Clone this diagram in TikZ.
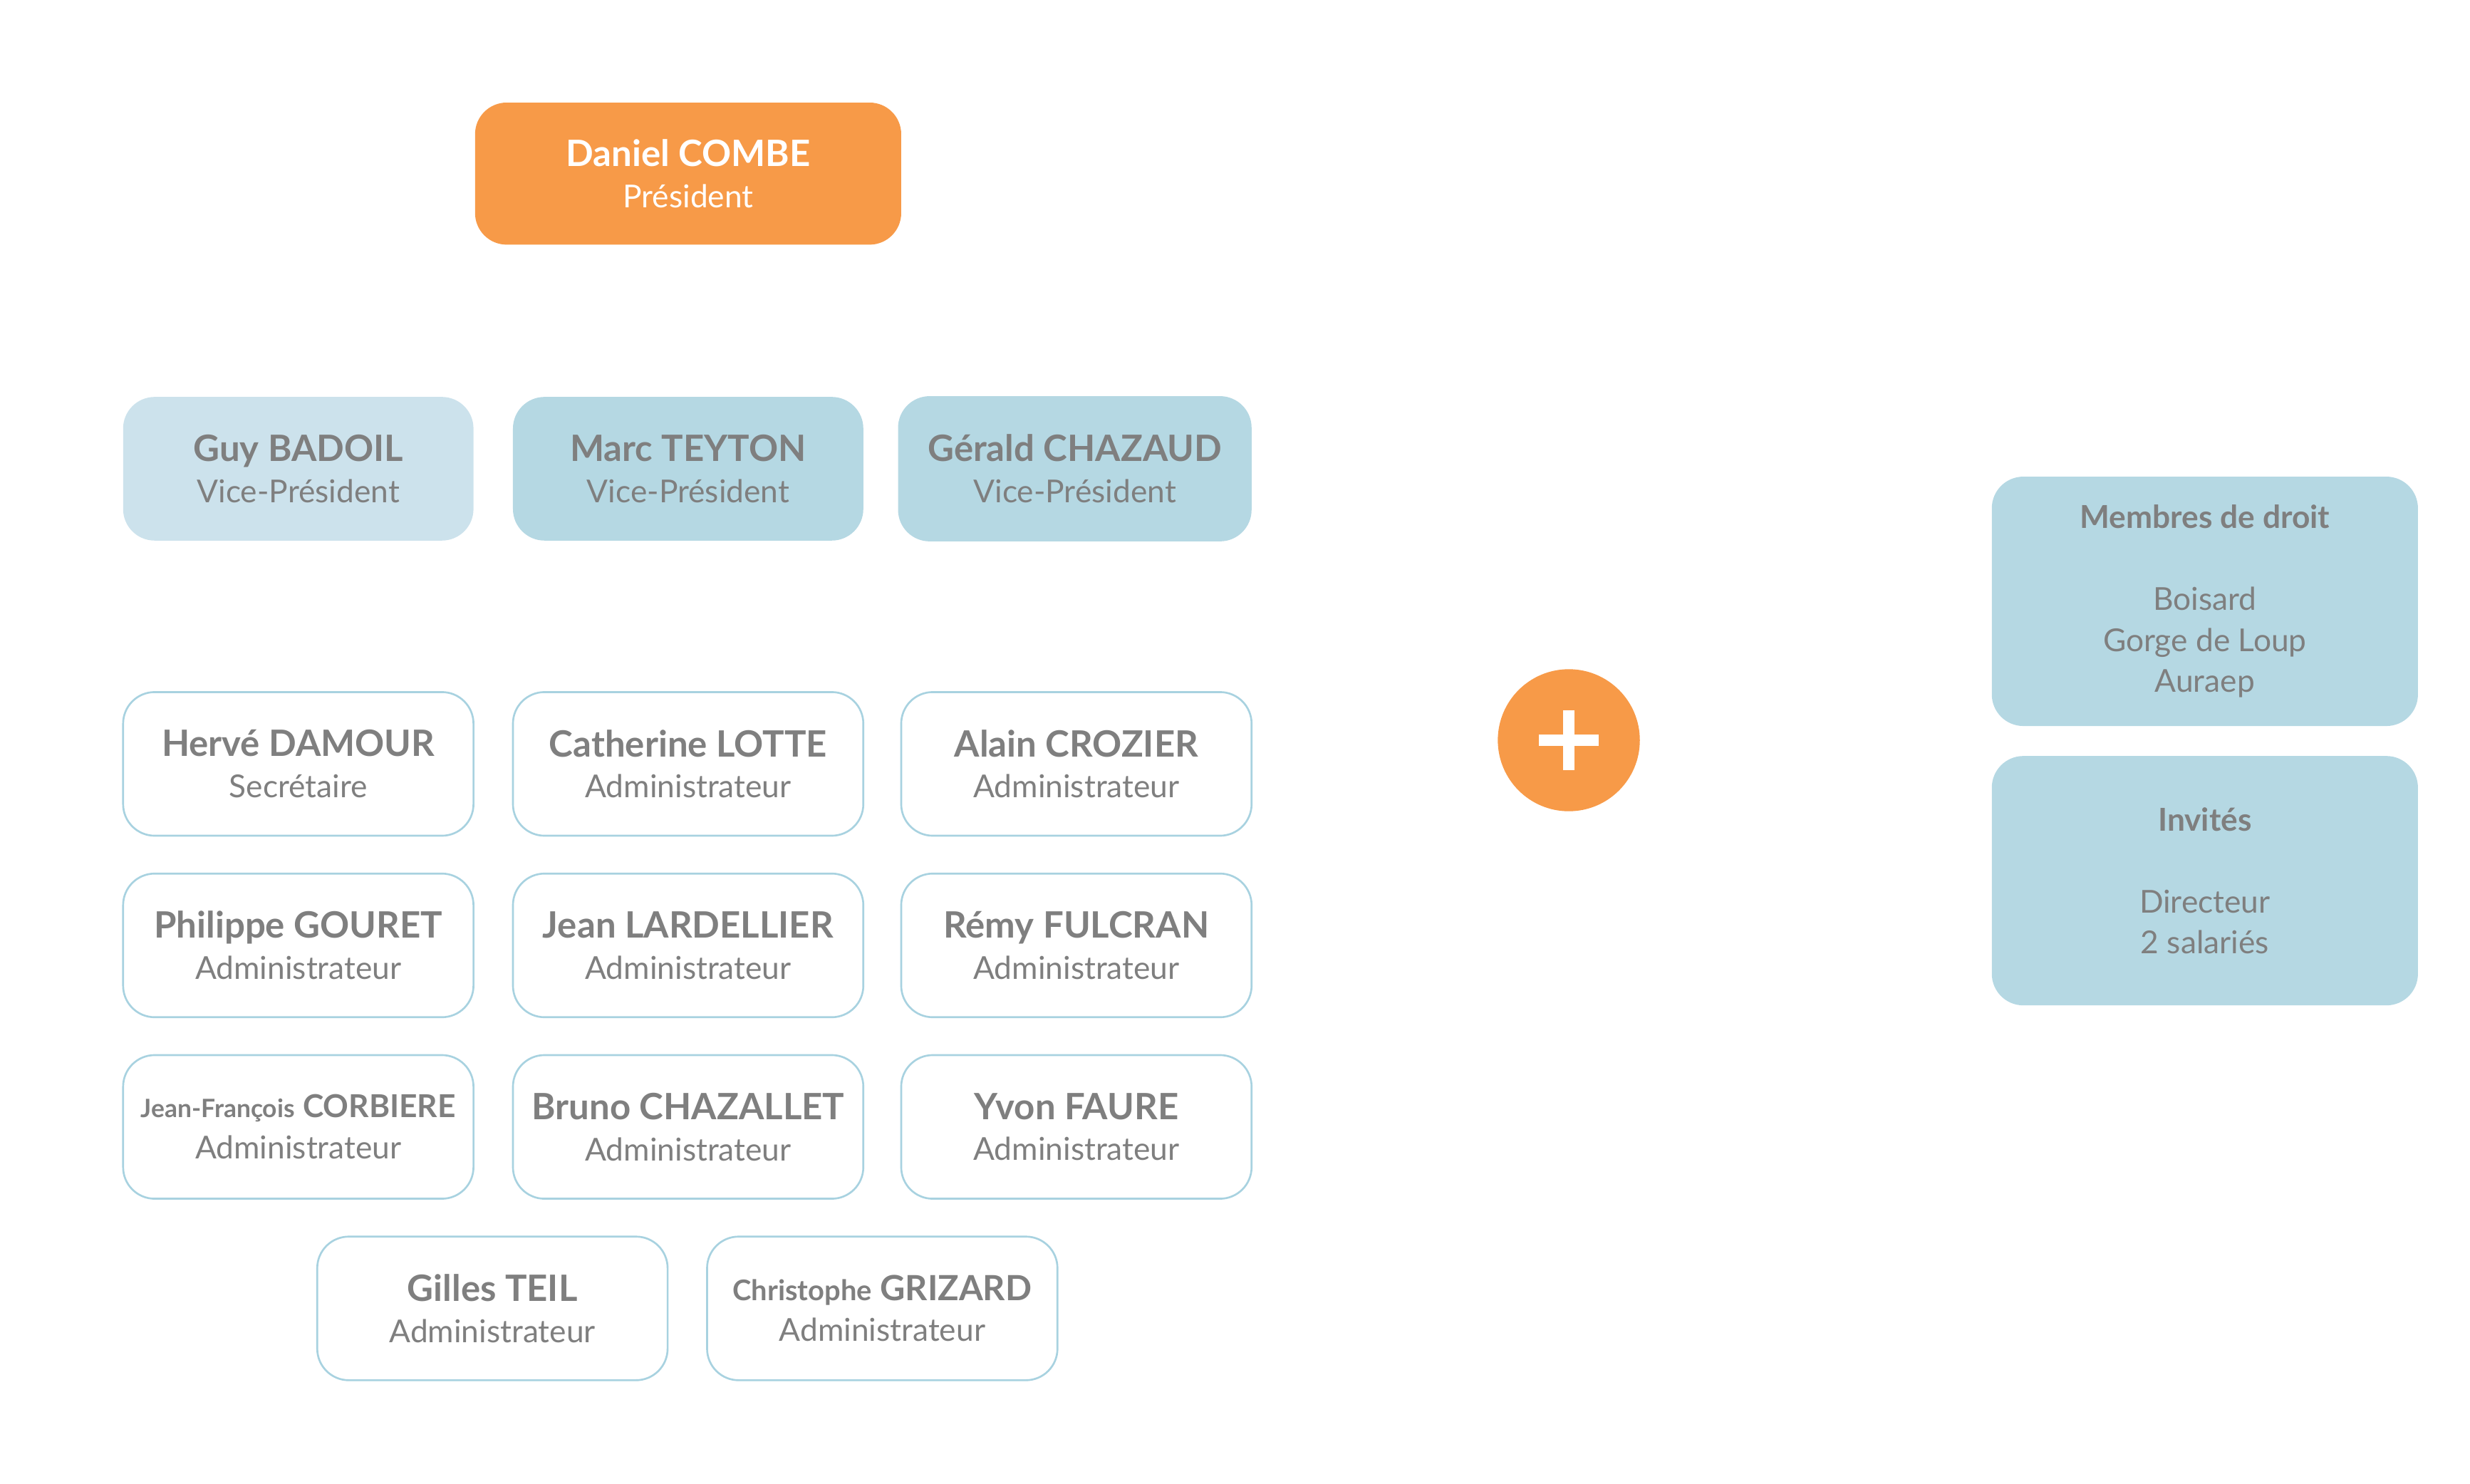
\documentclass[tikz,border=0pt]{standalone}
\usepackage{fontspec}
\setmainfont{Lato}
\definecolor{orga}{HTML}{F79A48}
\definecolor{bleuA}{HTML}{CCE2EC}
\definecolor{bleuB}{HTML}{B5D8E3}
\definecolor{bord}{HTML}{A8D2E0}
\definecolor{gristxt}{HTML}{7F7F7F}
\tikzset{
  boite/.style={rounded corners=20, minimum width=222, minimum height=91, align=center, text=gristxt, font=\fontsize{20}{26}\selectfont, inner sep=0pt},
  membre/.style={boite, draw=bord, line width=1.2pt, fill=white},
  vice/.style={boite, fill=bleuB},
}
\newcommand{\pers}[2]{{\fontsize{23}{26}\selectfont\textbf{#1}}\\#2}
\begin{document}
\begin{tikzpicture}[x=1pt,y=-1pt]
\useasboundingbox (0,0) rectangle (1565,940);
\node[boite, fill=orga, text=white, minimum width=270, minimum height=90] (combe) at (436,110) {\pers{Daniel COMBE}{Président}};
% vice-presidents
\node[vice, fill=bleuA] (badoil) at (189,297) {\pers{Guy BADOIL}{Vice-Président}};
\node[vice] (teyton) at (436,297) {\pers{Marc TEYTON}{Vice-Président}};
\node[vice, minimum width=224, minimum height=92] (chazaud) at (681,297) {\pers{Gérald CHAZAUD}{Vice-Président}};
% membres
\node[membre] (damour) at (189,484) {\pers{Hervé DAMOUR}{Secrétaire}};
\node[membre] (lotte) at (436,484) {\pers{Catherine LOTTE}{Administrateur}};
\node[membre] (crozier) at (682,484) {\pers{Alain CROZIER}{Administrateur}};
\node[membre] (gouret) at (189,599) {\pers{Philippe GOURET}{Administrateur}};
\node[membre] (lardellier) at (436,599) {\pers{Jean LARDELLIER}{Administrateur}};
\node[membre] (fulcran) at (682,599) {\pers{Rémy FULCRAN}{Administrateur}};
\node[membre] (corbiere) at (189,714) {{\fontsize{16}{26}\selectfont\textbf{Jean-François}} {\fontsize{20}{26}\selectfont\textbf{CORBIERE}}\\Administrateur};
\node[membre] (chazallet) at (436,714) {\pers{Bruno CHAZALLET}{Administrateur}};
\node[membre] (faure) at (682,714) {\pers{Yvon FAURE}{Administrateur}};
\node[membre] (teil) at (312,829) {\pers{Gilles TEIL}{Administrateur}};
\node[membre] (grizard) at (559,829) {{\fontsize{18}{26}\selectfont\textbf{Christophe}} {\fontsize{22}{26}\selectfont\textbf{GRIZARD}}\\Administrateur};
% plus
\node[circle, fill=orga, minimum size=90, inner sep=0pt] (plus) at (994,469) {};
\draw[white, line width=7pt] ([xshift=-19]plus.center) -- ([xshift=19]plus.center);
\draw[white, line width=7pt] ([yshift=-19]plus.center) -- ([yshift=19]plus.center);
% droite
\node[vice, minimum width=270, minimum height=158] (droit) at (1397,381) {\textbf{Membres de droit}\\[26pt]Boisard\\Gorge de Loup\\Auraep};
\node[vice, minimum width=270, minimum height=158] (invites) at (1397,558) {\textbf{Invités}\\[26pt]Directeur\\2 salariés};
\end{tikzpicture}
\end{document}
